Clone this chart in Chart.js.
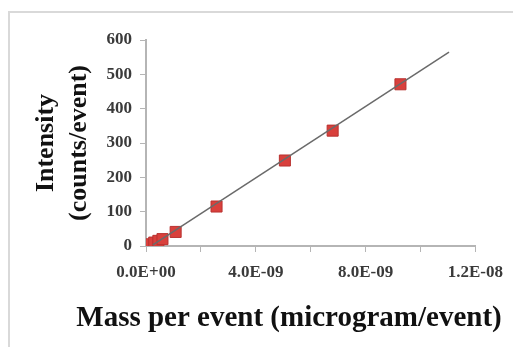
<!DOCTYPE html>
<html>
<head>
<meta charset="utf-8">
<script src="https://cdn.jsdelivr.net/npm/chart.js@4"></script>
<style>
  html, body { margin: 0; padding: 0; background: #fff; }
  #wrap { width: 513px; height: 347px; position: relative; }
</style>
</head>
<body>
<div id="wrap"><canvas id="myChart"></canvas></div>
<script>
// measured points (mass per event, intensity)
var massValues = [0.05e-9, 0.15e-9, 0.30e-9, 0.45e-9, 0.60e-9, 1.08e-9, 2.57e-9, 5.06e-9, 6.80e-9, 9.27e-9];
var intensityValues = [2, 5, 10, 15, 20, 41, 115, 249, 336, 471];
// trend line end points
var fitMass = [0.25e-9, 11.04e-9];
var fitIntensity = [3, 565];
var xTickLabels = ['0.0E+00', '4.0E-09', '8.0E-09', '1.2E-08'];
var yTitle = ['Intensity', '(counts/event)'];
var xTitle = 'Mass per event (microgram/event)';

var serif = "'Liberation Serif', 'Times New Roman', serif";

var pts = massValues.map(function(m, i){ return {x: m, y: intensityValues[i]}; });
var fit = fitMass.map(function(m, i){ return {x: m, y: fitIntensity[i]}; });

var frame = {
  id: 'frame',
  beforeDraw: function(chart){
    var c = chart.ctx;
    c.save();
    c.fillStyle = '#fff';
    c.fillRect(0, 0, chart.width, chart.height);
    c.strokeStyle = '#d9d9d9';
    c.lineWidth = 2;
    c.beginPath();
    c.moveTo(9, chart.height);
    c.lineTo(9, 12);
    c.lineTo(chart.width, 12);
    c.stroke();
    c.restore();
  },
  afterDraw: function(chart){
    var c = chart.ctx;
    c.save();
    c.font = "bold 29px " + serif;
    c.fillStyle = '#111';
    c.textAlign = 'center';
    c.textBaseline = 'alphabetic';
    c.fillText(xTitle, 289, 326);
    c.restore();
  }
};

var ctx = document.getElementById('myChart').getContext('2d');
var myChart = new Chart(ctx, {
  type: 'scatter',
  data: {
    datasets: [{
      type: 'line',
      label: 'fit',
      data: fit,
      borderColor: '#6a6a6a',
      borderWidth: 1.5,
      pointRadius: 0,
      fill: false
    }, {
      label: 'Intensity',
      data: pts,
      pointStyle: 'rect',
      pointRadius: 7.8,
      backgroundColor: '#d9403c',
      borderColor: '#b83230',
      borderWidth: 1
    }]
  },
  options: {
    responsive: true,
    maintainAspectRatio: false,
    animation: false,
    layout: { padding: { left: 0, right: 29, top: 40, bottom: 0 } },
    plugins: { legend: { display: false }, tooltip: { enabled: false } },
    scales: {
      x: {
        type: 'linear',
        min: 0,
        max: 1.2e-8,
        afterFit: function(s){ s.height = 101; },
        afterBuildTicks: function(s){
          s.ticks = [0, 2e-9, 4e-9, 6e-9, 8e-9, 1e-8, 1.2e-8].map(function(v){ return {value: v}; });
        },
        ticks: {
          autoSkip: false,
          maxRotation: 0,
          padding: 10,
          color: '#3a3a3a',
          font: { family: serif, size: 17, weight: 'bold' },
          callback: function(v){
            var i = Math.round(v / 4e-9);
            return Math.abs(v - i * 4e-9) < 1e-12 ? xTickLabels[i] : '';
          }
        },
        grid: { drawOnChartArea: false, tickLength: 6, color: '#b5b5b5' },
        border: { color: '#b5b5b5', width: 2 }
      },
      y: {
        min: 0,
        max: 600,
        afterFit: function(s){ s.width = 146; },
        ticks: {
          stepSize: 100,
          padding: 8,
          color: '#3a3a3a',
          font: { family: serif, size: 17, weight: 'bold' }
        },
        grid: { drawOnChartArea: false, tickLength: 6, color: '#b5b5b5' },
        border: { color: '#b5b5b5', width: 2 },
        title: {
          display: true,
          text: yTitle,
          color: '#111',
          padding: { top: 29, bottom: 0 },
          font: { family: serif, size: 26, weight: 'bold', lineHeight: 1.3 }
        }
      }
    }
  },
  plugins: [frame]
});
</script>
</body>
</html>
